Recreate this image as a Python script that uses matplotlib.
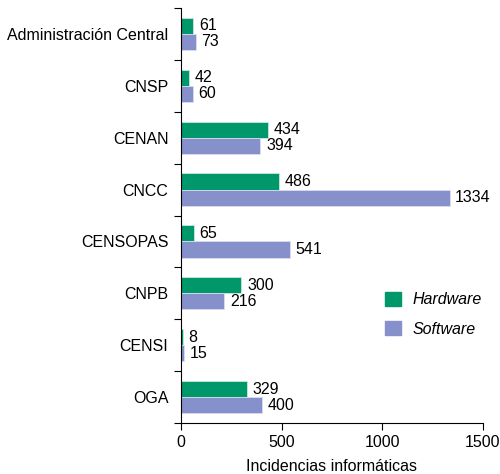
import matplotlib.pyplot as plt
import numpy as np
from matplotlib.patches import Patch

plt.rcParams["font.family"] = ["Liberation Sans", "DejaVu Sans"]

categories = ["Administración Central", "CNSP", "CENAN", "CNCC",
              "CENSOPAS", "CNPB", "CENSI", "OGA"]
hardware = [61, 42, 434, 486, 65, 300, 8, 329]
software = [73, 60, 394, 1334, 541, 216, 15, 400]

GREEN = "#00976A"
PURPLE = "#8690CA"
FS = 11.5

fig = plt.figure(figsize=(5, 4.74), dpi=100)
ax = fig.add_axes([0.362, 0.1076, 0.604, 0.8755])

y = np.arange(len(categories))
h = 0.31
ax.barh(y - h / 2, hardware, height=h, color=GREEN, edgecolor="#d8efe6", linewidth=0.5)
ax.barh(y + h / 2, software, height=h, color=PURPLE, edgecolor="#dfe2f3", linewidth=0.5)

# value labels next to each bar
for yi, v in zip(y, hardware):
    ax.text(v + 28, yi - h / 2, str(v), va="center", ha="left", fontsize=FS)
for yi, v in zip(y, software):
    ax.text(v + 28, yi + h / 2, str(v), va="center", ha="left", fontsize=FS)

ax.set_ylim(len(categories) - 0.5, -0.5)
ax.set_xlim(0, 1500)
ax.set_xticks([0, 500, 1000, 1500])
ax.set_yticks(y)
ax.set_yticklabels(categories, fontsize=FS)
ax.tick_params(axis="y", length=0, pad=9)
ax.set_yticks(np.arange(-0.5, len(categories) + 0.5, 1), minor=True)
ax.tick_params(axis="y", which="minor", length=5, width=0.8)
ax.tick_params(axis="x", length=5, width=0.8, labelsize=FS, pad=4)
ax.set_xlabel("Incidencias informáticas", fontsize=FS, labelpad=6)

for s in ["top", "right"]:
    ax.spines[s].set_visible(False)
for s in ["left", "bottom"]:
    ax.spines[s].set_linewidth(0.8)

handles = [Patch(color=GREEN, label="Hardware"), Patch(color=PURPLE, label="Software")]
ax.legend(handles=handles, loc="center left", bbox_to_anchor=(0.629, 0.262),
          frameon=False, handlelength=1.0, handleheight=1.0, labelspacing=0.85,
          handletextpad=0.7, prop={"style": "italic", "size": FS})

fig.savefig("out.png", dpi=100)
